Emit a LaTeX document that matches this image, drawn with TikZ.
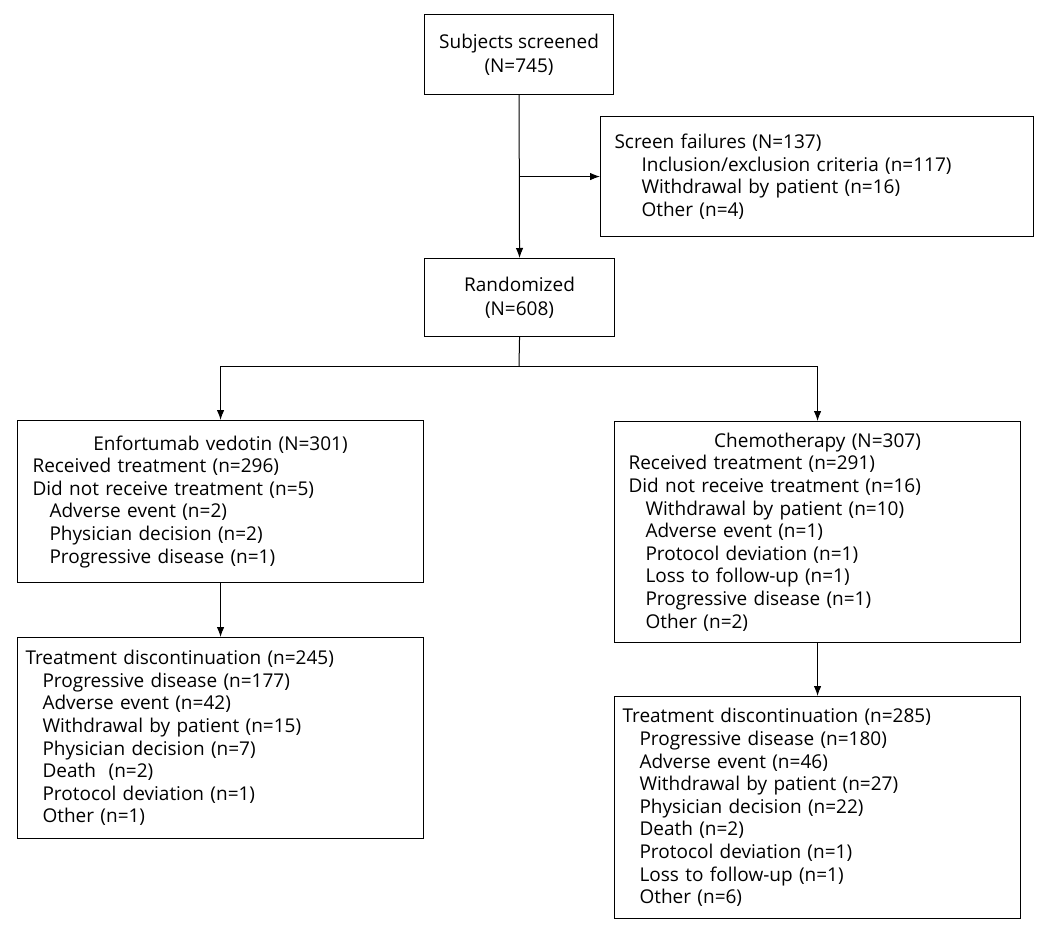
\documentclass[tikz,border=0pt]{standalone}
\usepackage{fontspec}
\setmainfont{Open Sans}
\usetikzlibrary{arrows.meta}
\newcommand{\ind}[1]{\hspace*{#1pt}}
\newcommand{\ttl}[1]{\makebox[\linewidth][c]{#1}}
\begin{document}
\begin{tikzpicture}[x=1pt,y=-1pt,
  box/.style={draw, line width=1.1pt, rectangle, anchor=north west, inner xsep=8pt, inner ysep=0pt,
    align=left, font=\fontsize{19}{22.6}\selectfont},
  cbox/.style={draw, line width=1.1pt, rectangle, anchor=north west, inner sep=0pt,
    align=center, font=\fontsize{19}{24}\selectfont},
  arr/.style={line width=1pt, -{Latex[length=10pt,width=7.5pt]}},
  ln/.style={line width=1pt}]
\useasboundingbox (0,0) rectangle (1050,952);

\node[cbox, minimum width=189pt, minimum height=80pt] (subj) at (424,14)
  {Subjects screened\\(N=745)};
\node[cbox, minimum width=190pt, minimum height=78pt] (rand) at (424,258)
  {Randomized\\(N=608)};
\node[box, minimum width=433pt, text width=417pt, minimum height=120pt] (sf) at (600,116)
  {\ind{6}Screen failures (N=137)\\
   \ind{33}Inclusion/exclusion criteria (n=117)\\
   \ind{33}Withdrawal by patient (n=16)\\
   \ind{33}Other (n=4)};
\node[box, minimum width=406pt, text width=390pt, minimum height=162pt] (ev) at (17,420)
  {\ttl{Enfortumab vedotin (N=301)}\\
   \ind{7}Received treatment (n=296)\\
   \ind{7}Did not receive treatment (n=5)\\
   \ind{24}Adverse event (n=2)\\
   \ind{24}Physician decision (n=2)\\
   \ind{24}Progressive disease (n=1)};
\node[box, minimum width=406pt, text width=390pt, minimum height=221pt] (chemo) at (614,421)
  {\ttl{Chemotherapy (N=307)}\\
   \ind{6}Received treatment (n=291)\\
   \ind{6}Did not receive treatment (n=16)\\
   \ind{23}Withdrawal by patient (n=10)\\
   \ind{23}Adverse event (n=1)\\
   \ind{23}Protocol deviation (n=1)\\
   \ind{23}Loss to follow-up (n=1)\\
   \ind{23}Progressive disease (n=1)\\
   \ind{23}Other (n=2)};
\node[box, minimum width=406pt, text width=390pt, minimum height=201pt] (d1) at (17,637)
  {Treatment discontinuation (n=245)\\
   \ind{17}Progressive disease (n=177)\\
   \ind{17}Adverse event (n=42)\\
   \ind{17}Withdrawal by patient (n=15)\\
   \ind{17}Physician decision (n=7)\\
   \ind{17}Death\ \ (n=2)\\
   \ind{17}Protocol deviation (n=1)\\
   \ind{17}Other (n=1)};
\node[box, minimum width=406pt, text width=390pt, minimum height=222pt] (d2) at (614,696)
  {Treatment discontinuation (n=285)\\
   \ind{17}Progressive disease (n=180)\\
   \ind{17}Adverse event (n=46)\\
   \ind{17}Withdrawal by patient (n=27)\\
   \ind{17}Physician decision (n=22)\\
   \ind{17}Death (n=2)\\
   \ind{17}Protocol deviation (n=1)\\
   \ind{17}Loss to follow-up (n=1)\\
   \ind{17}Other (n=6)};

\draw[arr] (subj.south) -- (rand.north);
\coordinate (br) at (subj.south |- sf.west);
\draw[arr] (br) -- (sf.west);
\coordinate (split) at (519,366);
\draw[ln] (rand.south) -- (split);
\draw[arr] (split) -| (ev.north);
\draw[arr] (split) -| (chemo.north);
\draw[arr] (ev.south) -- (d1.north);
\draw[arr] (chemo.south) -- (d2.north);
\end{tikzpicture}
\end{document}
